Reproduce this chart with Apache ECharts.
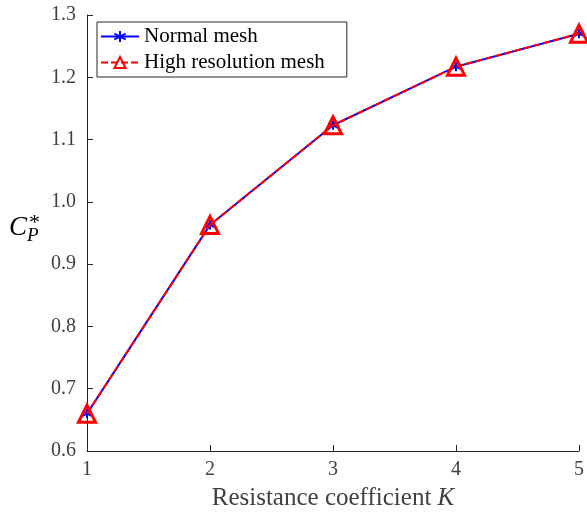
<!DOCTYPE html>
<html><head><meta charset="utf-8">
<script src="https://cdn.jsdelivr.net/npm/echarts@6/dist/echarts.min.js"></script>
<style>html,body{margin:0;padding:0;background:#fff}#c{width:587px;height:516px}</style>
</head><body><div id="c"></div>
<script>
const kValues = [1, 2, 3, 4, 5];
const normalMesh = [0.660, 0.963, 1.123, 1.217, 1.270];
const highResMesh = [0.660, 0.963, 1.123, 1.217, 1.270];
const seriesNames = ['Normal mesh', 'High resolution mesh'];

const font = 'Liberation Serif, Times New Roman, serif';
const chart = echarts.init(document.getElementById('c'));
const asterisk = 'path://M0,-1L0,1M-0.87,-0.5L0.87,0.5M-0.87,0.5L0.87,-0.5';
chart.setOption({
  animation: false,
  grid: {left: 87, right: 3, top: 15, bottom: 64, containLabel: false},
  xAxis: {
    type: 'value', min: 1, max: 5, interval: 1,
    name: '{a|Resistance coefficient }{b|K}', nameLocation: 'middle', nameGap: 35,
    nameTextStyle: {rich: {
      a: {fontFamily: font, fontSize: 25, color: '#404040'},
      b: {fontFamily: font, fontSize: 25, color: '#404040', fontStyle: 'italic'}
    }},
    axisLine: {lineStyle: {color: '#262626', width: 1}},
    axisTick: {inside: true, length: 6, lineStyle: {color: '#262626'}},
    axisLabel: {fontFamily: font, fontSize: 20, color: '#404040', margin: 9},
    splitLine: {show: false}
  },
  yAxis: {
    type: 'value', min: 0.6, max: 1.3, interval: 0.1,
    axisLine: {show: true, lineStyle: {color: '#262626', width: 1}},
    axisTick: {show: true, inside: true, length: 6, lineStyle: {color: '#262626'}},
    axisLabel: {fontFamily: font, fontSize: 20, color: '#404040', margin: 11,
      formatter: v => v.toFixed(1)},
    splitLine: {show: false}
  },
  legend: {
    left: 97, top: 22, orient: 'vertical',
    backgroundColor: '#fff', borderColor: '#262626', borderWidth: 1,
    padding: [4, 22, 4, 3], itemWidth: 38, itemHeight: 14, itemGap: 5,
    textStyle: {fontFamily: font, fontSize: 21, color: '#000'},
    data: seriesNames
  },
  graphic: [{
    type: 'text', left: 9, top: 214,
    style: {
      text: '{c|C}{s|P}',
      rich: {
        c: {fontFamily: font, fontSize: 27, fontStyle: 'italic', color: '#000'},
        s: {fontFamily: font, fontSize: 19, fontStyle: 'italic', color: '#000', padding: [16, 0, 0, 0]}
      }
    }
  }, {
    type: 'text', left: 29, top: 212,
    style: {text: '*', fontFamily: font, fontSize: 22, fill: '#000'}
  }],
  series: [{
    name: seriesNames[0], type: 'line',
    data: kValues.map((k, i) => [k, normalMesh[i]]),
    symbol: asterisk, symbolSize: 9,
    lineStyle: {color: '#0000ff', width: 2},
    itemStyle: {color: '#0000ff', borderColor: '#0000ff', borderWidth: 2},
    z: 2
  }, {
    name: seriesNames[1], type: 'line',
    data: kValues.map((k, i) => [k, highResMesh[i]]),
    symbol: 'triangle', symbolSize: 17,
    lineStyle: {color: '#ff0000', width: 2, type: [7, 3]},
    itemStyle: {color: 'rgba(0,0,0,0)', borderColor: '#ff0000', borderWidth: 3},
    z: 3
  }]
});
</script></body></html>
